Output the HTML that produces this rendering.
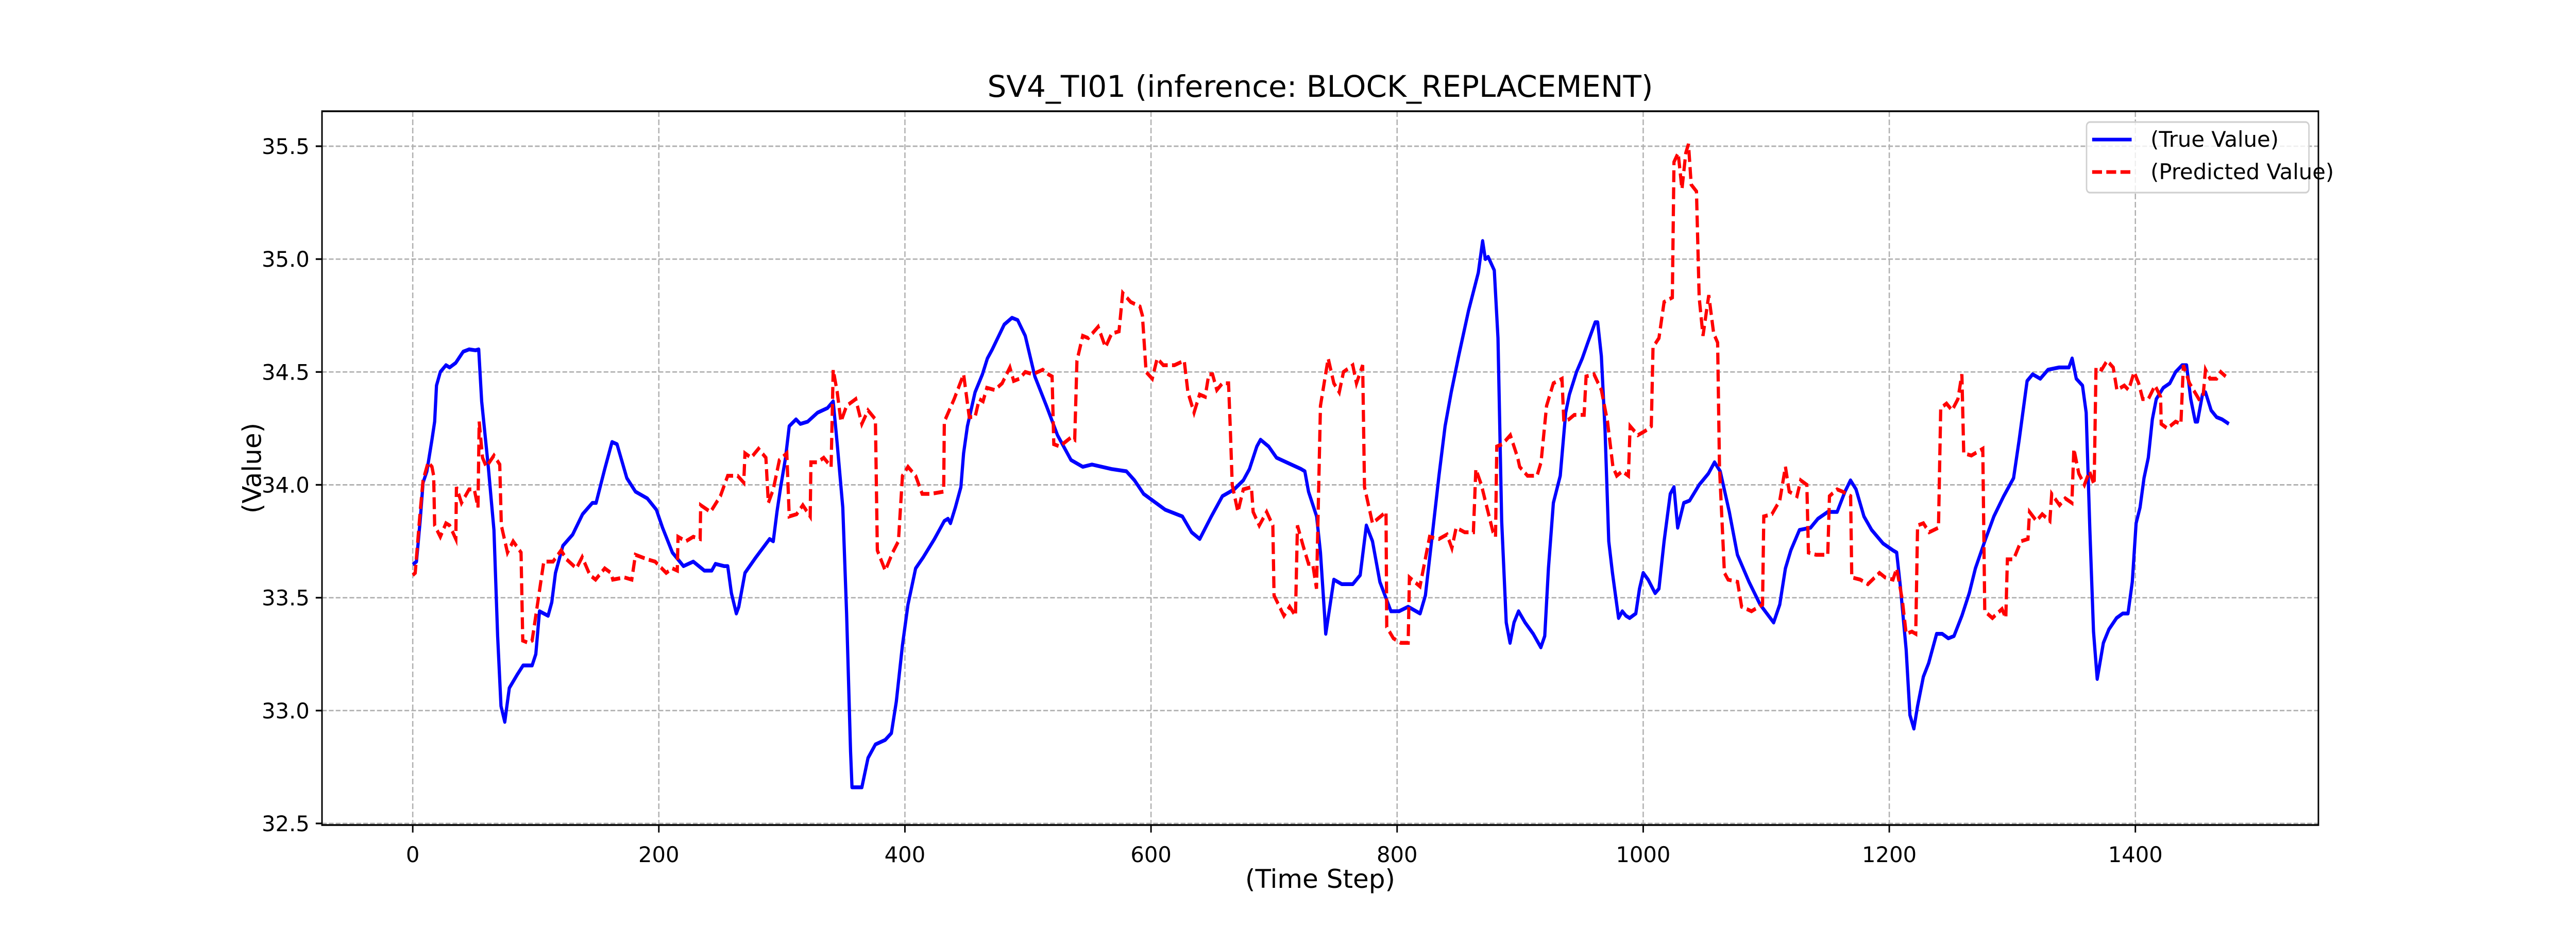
<!DOCTYPE html>
<html><head><meta charset="utf-8"><style>
html,body{margin:0;padding:0;background:#fff;width:100%;height:100%;overflow:hidden;}
svg{display:block;width:100vw;height:100vh;font-family:"DejaVu Sans","Liberation Sans",sans-serif;}
</style></head><body>
<svg id="chart" viewBox="0 0 6000 1800" preserveAspectRatio="none" xmlns="http://www.w3.org/2000/svg">
<rect x="0" y="0" width="6000" height="1800" fill="#fff"/>
<g id="grid"></g>
<g id="series"></g>
<rect x="750" y="216" width="4650" height="1386" fill="none" stroke="#000" stroke-width="3.5"/>
<g id="ticks"></g>
<text class="fx" x="3075" y="188" font-size="58" text-anchor="middle">SV4_TI01 (inference: BLOCK_REPLACEMENT)</text>
<text class="fx" x="3075" y="1724" font-size="50" text-anchor="middle">(Time Step)</text>
<text id="ylab" x="608" y="909" font-size="50" text-anchor="middle" transform="rotate(-90 608 909)">(Value)</text>
<g>
<rect x="4860" y="237" width="518" height="137" rx="8" fill="#fff" fill-opacity="0.8" stroke="#d0d0d0" stroke-width="3.3"/>
<line x1="4873" y1="271" x2="4965" y2="271" stroke="#0000ff" stroke-width="7"/>
<text class="fx" x="5009" y="285" font-size="41.7">(True Value)</text>
<line x1="4873" y1="334" x2="4965" y2="334" stroke="#ff0000" stroke-width="7" stroke-dasharray="23,10"/>
<text class="fx" x="5009" y="348" font-size="41.7">(Predicted Value)</text>
</g>
</svg>
<script>
const xTicks = [0,200,400,600,800,1000,1200,1400];
const yTicks = [32.5,33.0,33.5,34.0,34.5,35.0,35.5];
const tTrue = [0,3,6,8.4,11.5,15.6,17.8,19.3,22.4,27,30,34.9,41,45.8,51,53.6,56,61.4,66,69,71.7,74.8,78.5,85,89.7,97,100,103,106.5,110,113,116,122,130,138,146,149,156,162,166,174,181,190.6,198,203,211,220,228,237,243,246,253,256,259,263,265,270,279,290,293,296,299,303,306,311.5,315,321,329,337,341.7,345,349.5,352.6,355.8,357,360,365,370,376,384,389,393,398,402.5,408.7,415,424,432,435,437,441,445.5,447.7,450.8,457,463,467,471,480.7,487,491.6,497.8,505.6,515,524,535,544.5,552,568,580,586.6,594,611.5,625.5,633,639.6,649,658,667.6,675,680,686,689,695.6,702,714,722,725,728,734.6,737.7,741,742,745.6,748.6,755,764,770,775,780,786,795,801.6,809,818.7,823,828,834,839,844,850,858,866,869.5,871.7,874,879,882,885,888.7,891.8,895,898.7,904,910.6,916.8,920,923,927,932.6,937,940,945.8,950.5,955,961,963,966,969,972,975,980,983,986,989,994,997,1000,1004,1009.7,1012.8,1017,1022,1025,1028,1033,1037.7,1045.5,1053,1058,1062.6,1070,1076.6,1086,1095,1106,1111,1115.6,1120,1127,1136,1142,1150,1157.6,1164,1168.5,1173,1179.4,1185.7,1195,1203,1206,1209,1213.7,1216.8,1220,1223,1227.7,1232,1238.5,1243,1248,1252.6,1259,1265,1270,1277.6,1285,1293,1301,1305.6,1312,1316.5,1322.7,1329,1338,1346,1348.6,1352,1357,1360,1363,1366,1369,1374,1378.5,1384.7,1389.7,1394,1397.5,1400.6,1403.8,1407,1410.5,1413.8,1417,1422.7,1428,1432.7,1438,1441.6,1445,1448.7,1450.5,1454.5,1457,1461.6,1466,1470.5,1476];
const vTrue = [33.647,33.66,33.84,34.01,34.06,34.20,34.28,34.44,34.50,34.53,34.52,34.54,34.59,34.60,34.596,34.60,34.37,34.08,33.80,33.33,33.02,32.95,33.10,33.16,33.20,33.20,33.25,33.44,33.43,33.42,33.48,33.61,33.73,33.78,33.87,33.92,33.92,34.07,34.19,34.18,34.03,33.97,33.94,33.89,33.81,33.70,33.64,33.66,33.62,33.62,33.65,33.64,33.64,33.52,33.43,33.46,33.61,33.68,33.76,33.75,33.88,33.99,34.12,34.26,34.29,34.27,34.28,34.32,34.34,34.37,34.18,33.90,33.43,32.82,32.66,32.66,32.66,32.79,32.85,32.87,32.90,33.04,33.29,33.47,33.63,33.68,33.76,33.84,33.85,33.83,33.90,33.99,34.14,34.26,34.41,34.49,34.56,34.60,34.71,34.74,34.73,34.66,34.48,34.35,34.22,34.11,34.08,34.09,34.07,34.06,34.02,33.96,33.89,33.86,33.79,33.76,33.86,33.95,33.98,34.02,34.07,34.17,34.20,34.17,34.12,34.09,34.07,34.06,33.97,33.86,33.70,33.43,33.34,33.47,33.58,33.56,33.56,33.60,33.82,33.75,33.57,33.44,33.44,33.46,33.43,33.51,33.75,34.04,34.26,34.41,34.57,34.77,34.94,35.08,35.00,35.01,34.95,34.65,33.84,33.39,33.30,33.39,33.44,33.39,33.34,33.28,33.33,33.63,33.92,34.04,34.32,34.40,34.50,34.56,34.63,34.72,34.72,34.57,34.24,33.75,33.61,33.41,33.44,33.42,33.41,33.43,33.54,33.61,33.58,33.52,33.54,33.75,33.96,33.99,33.81,33.92,33.93,34.00,34.05,34.10,34.06,33.88,33.69,33.57,33.47,33.39,33.47,33.63,33.71,33.80,33.81,33.85,33.88,33.88,33.97,34.02,33.98,33.86,33.80,33.74,33.71,33.70,33.55,33.27,32.98,32.92,33.02,33.15,33.21,33.34,33.34,33.32,33.33,33.42,33.52,33.63,33.75,33.86,33.95,34.03,34.20,34.46,34.49,34.47,34.51,34.52,34.52,34.56,34.47,34.44,34.32,33.80,33.35,33.14,33.30,33.36,33.41,33.43,33.43,33.57,33.83,33.90,34.03,34.12,34.29,34.38,34.43,34.45,34.50,34.53,34.53,34.38,34.28,34.28,34.40,34.41,34.33,34.30,34.29,34.27];
const tPred = [0,2,6,8.4,12.5,15.6,17,17.8,22.4,27,30,35,35.5,39.6,45.8,50,53,54,56.7,59.8,66,70.7,72,77,81.6,88,89.4,94,97,101.9,106.5,114,120.6,125,133,137.7,144,148.6,156,161,162.6,172,178,181,190.7,197,206,211,215,215.6,222,228,233.6,234,242,250,256,264,269,270,275,281,287,289,293,298,304,306,312,317,323,323.6,329,334,340,341.7,345,348,352.6,360,365,370,376,377.6,384,390,394.7,398,402.5,408.7,414,421,431.5,432,440,447.7,452.3,457,460.4,463.5,466.6,473,479,485.3,488.4,493,497.8,504,512,516.5,519.6,521,525.8,535,538,539.8,544.5,549,557,563,568,574,577,583.5,591,593,596,601,605,610,619,627,630,635,639.5,644,647,650,653.5,658,663,664.5,666,670.6,675,681.6,683,688,694,699,700,708,712.7,717.4,719,723.6,728,731.4,734.5,737.7,744,748.6,753,756.4,764,767,772,773.5,780,791,791.6,797,803,809,810,818.6,826.4,834,840.5,844.5,848,855,862,864,868.5,873,878,880,881,885.6,892,898,899.6,906,913.7,917,921.5,927,934,935.5,939.6,944,952,953.6,960,966,971,975.4,978.5,983,988,989.4,995.7,1002,1006.6,1008,1012.8,1017,1023.7,1025,1028.4,1031.5,1034.6,1036.8,1039,1043.3,1045.5,1048.6,1051.7,1053.3,1057.3,1060.5,1062,1066,1069,1076.7,1080,1088,1094,1097,1098,1104.6,1111,1115.6,1118.7,1125,1128,1133,1134.3,1140.5,1150,1151.4,1157.6,1162,1168.6,1169.5,1176.4,1182.6,1192,1196.6,1203,1206,1210.6,1213.7,1218.4,1221.5,1223,1227.7,1232.4,1240,1241.8,1246.5,1251,1255.8,1259,1260.5,1266.7,1276,1277.6,1283.8,1291.6,1294.7,1296,1301,1307,1312.7,1314,1319.6,1324.3,1330.5,1332,1338.4,1343,1348.4,1350,1354,1358.6,1362.7,1366.5,1368,1372.6,1377,1382,1385,1391,1394.5,1399,1402.7,1406,1410.5,1416,1420.5,1421,1426,1432.7,1437,1439,1444,1451.6,1455,1457,1460.6,1466,1469.4,1473.4];
const vPred = [33.60,33.61,33.88,34.02,34.10,34.08,34.04,33.82,33.77,33.83,33.82,33.76,33.99,33.92,33.98,33.98,33.90,34.28,34.12,34.08,34.13,34.09,33.82,33.70,33.75,33.70,33.31,33.30,33.31,33.49,33.66,33.66,33.71,33.67,33.63,33.68,33.60,33.58,33.63,33.61,33.58,33.59,33.58,33.69,33.67,33.66,33.61,33.63,33.62,33.77,33.75,33.77,33.76,33.91,33.88,33.95,34.04,34.04,34.01,34.14,34.12,34.16,34.12,33.92,33.98,34.11,34.14,33.86,33.87,33.91,33.86,34.10,34.10,34.12,34.08,34.51,34.41,34.28,34.35,34.38,34.27,34.33,34.29,33.71,33.62,33.70,33.75,34.04,34.08,34.04,33.96,33.96,33.97,34.28,34.38,34.49,34.30,34.30,34.38,34.37,34.43,34.42,34.45,34.52,34.46,34.47,34.50,34.49,34.51,34.49,34.48,34.18,34.17,34.21,34.20,34.55,34.66,34.65,34.70,34.61,34.67,34.68,34.85,34.81,34.79,34.75,34.50,34.47,34.56,34.53,34.53,34.55,34.41,34.32,34.40,34.39,34.49,34.49,34.42,34.45,34.45,34.24,34.00,33.88,33.98,33.99,33.88,33.82,33.88,33.82,33.51,33.42,33.46,33.42,33.82,33.73,33.65,33.65,33.54,34.35,34.56,34.45,34.41,34.50,34.53,34.45,34.53,33.99,33.83,33.88,33.37,33.32,33.30,33.30,33.59,33.55,33.77,33.76,33.78,33.72,33.81,33.79,33.79,34.07,34.00,33.90,33.79,33.77,34.17,34.18,34.22,34.12,34.08,34.04,34.04,34.10,34.35,34.45,34.47,34.28,34.29,34.31,34.31,34.48,34.49,34.42,34.28,34.08,34.04,34.06,34.04,34.26,34.22,34.24,34.26,34.61,34.65,34.81,34.83,35.43,35.47,35.31,35.47,35.51,35.33,35.30,34.83,34.66,34.78,34.84,34.67,34.63,34.08,33.61,33.58,33.57,33.46,33.44,33.46,33.47,33.86,33.87,33.93,34.08,33.97,33.95,34.02,34.00,33.70,33.69,33.69,33.95,33.98,33.97,33.95,33.59,33.58,33.56,33.61,33.59,33.58,33.63,33.49,33.34,33.35,33.34,33.82,33.83,33.79,33.81,34.34,34.36,34.33,34.38,34.49,34.14,34.13,34.16,33.44,33.41,33.45,33.41,33.67,33.67,33.75,33.76,33.88,33.84,33.87,33.84,33.96,33.91,33.94,33.92,34.16,34.05,34.00,34.06,34.00,34.52,34.51,34.55,34.52,34.42,34.44,34.42,34.50,34.45,34.38,34.38,34.44,34.39,34.27,34.25,34.28,34.27,34.53,34.45,34.38,34.39,34.51,34.47,34.47,34.50,34.48];

const X0=750, X1=5400, Y0=216, Y1=1602;
const XMIN=-73.75, XMAX=1548.75, YMIN=32.493, YMAX=35.655;
function sx(t){return X0+(t-XMIN)/(XMAX-XMIN)*(X1-X0);}
function sy(v){return Y1-(v-YMIN)/(YMAX-YMIN)*(Y1-Y0);}
const NS="http://www.w3.org/2000/svg";
function mk(tag,attrs,parent){const e=document.createElementNS(NS,tag);for(const k in attrs)e.setAttribute(k,attrs[k]);parent.appendChild(e);return e;}
const grid=document.getElementById('grid'), ticks=document.getElementById('ticks'), series=document.getElementById('series');
xTicks.forEach(t=>{
  const x=sx(t);
  const g=mk('line',{x1:x,y1:Y0,x2:x,y2:Y1,stroke:'#b0b0b0','stroke-width':3,'stroke-dasharray':'11,5'},grid);
  
  
  const tk=mk('line',{x1:x,y1:Y1,x2:x,y2:Y1+14.6,stroke:'#000','stroke-width':3.5},ticks);
  
  
  const lb=mk('text',{x:x,y:Y1+72,'font-size':41.7,'text-anchor':'middle','class':'fx'},ticks);
  lb.textContent=String(t);
  
  
});
yTicks.forEach(v=>{
  const y=sy(v);
  const g=mk('line',{x1:X0,y1:y,x2:X1,y2:y,stroke:'#b0b0b0','stroke-width':2.8,'stroke-dasharray':'11,5'},grid);
  
  
  const tk=mk('line',{x1:X0-14.6,y1:y,x2:X0,y2:y,stroke:'#000','stroke-width':3.3},ticks);
  
  
  const lb=mk('text',{x:X0-29,y:y+15,'font-size':41.7,'text-anchor':'end','class':'fx'},ticks);
  lb.textContent=v.toFixed(1);
  
  
});
function pathD(ts,vs){return ts.map((t,i)=>(i?'L':'M')+sx(t).toFixed(1)+','+sy(vs[i]).toFixed(1)).join('');}
const pt=mk('path',{d:pathD(tTrue,vTrue),fill:'none',stroke:'#0000ff','stroke-width':7.5,'stroke-linejoin':'round'},series);


const pp=mk('path',{d:pathD(tPred,vPred),fill:'none',stroke:'#ff0000','stroke-width':7.5,'stroke-dasharray':'23,10'},series);



// compensate for non-uniform viewport stretching so glyphs keep natural proportions
const vw=window.innerWidth||6000, vh=window.innerHeight||1800;
const k=(vh/1800)/(vw/6000);
if(isFinite(k)&&k>0&&Math.abs(k-1)>0.005){
  document.querySelectorAll('text.fx').forEach(el=>{
    const x=parseFloat(el.getAttribute('x'));
    el.setAttribute('transform','translate('+x+',0) scale('+k+',1) translate('+(-x)+',0)');
  });
  const yl=document.getElementById('ylab');
  yl.setAttribute('transform','translate(608,909) scale('+k+',1) translate(-608,-909) rotate(-90 608 909)');
}
</script>
</body></html>
